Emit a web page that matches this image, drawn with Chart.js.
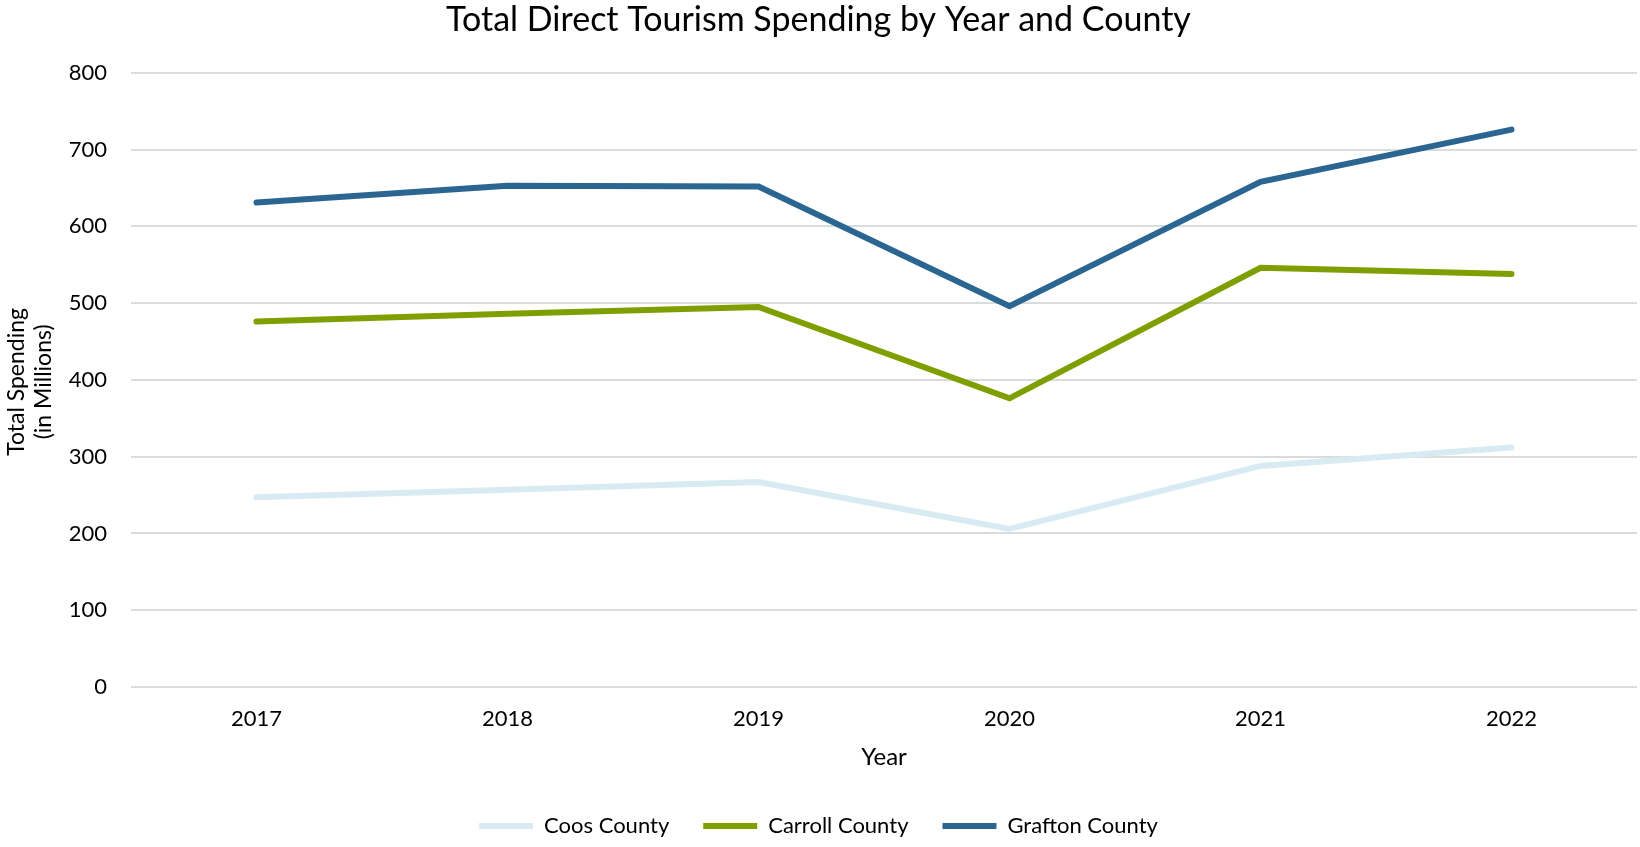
<!DOCTYPE html>
<html>
<head>
<meta charset="utf-8">
<title>Total Direct Tourism Spending</title>
<script src="https://cdn.jsdelivr.net/npm/chart.js@4"></script>
<style>
    html, body { margin: 0; padding: 0; background: #ffffff; }
    #wrap { width: 1640px; height: 847px; }
</style>
</head>
<body>
<div id="wrap"><canvas id="spendingChart" width="1640" height="847"></canvas></div>
<script>
// -----------------------------
// DATA (millions of dollars)
// -----------------------------
const years = ["2017", "2018", "2019", "2020", "2021", "2022"];

const coosSpending = [247, 257, 267, 206, 288, 312];
const carrollSpending = [476, 486, 495, 376, 546, 538];
const graftonSpending = [631, 653, 652, 496, 658, 726];

const yTicks = [0, 100, 200, 300, 400, 500, 600, 700, 800];
const yTitleLines = ["Total Spending", "(in Millions)"];

const FONT = "Lato, 'Open Sans', sans-serif";
const TEXT = "#000000";
const GRID = "#d9dcdc";

// -----------------------------
// DATASET HELPER
// -----------------------------
function countyLine(label, values, color) {

    return {
        label: label,
        data: values,
        borderColor: color,
        backgroundColor: color,
        borderWidth: 6,
        borderCapStyle: "round",
        tension: 0,
        pointRadius: 0,
        pointHoverRadius: 0,
        fill: false
    };
}

// -----------------------------
// Y AXIS TITLE (two rotated lines, drawn by hand)
// -----------------------------
const yTitlePlugin = {
    id: "yTitle",
    afterDraw(chart) {

        const { ctx, chartArea } = chart;
        const midY = (chartArea.top + chartArea.bottom) / 2 + 2;

        ctx.save();
        ctx.translate(17, midY);
        ctx.rotate(-Math.PI / 2);
        ctx.fillStyle = TEXT;
        ctx.font = `23px ${FONT}`;
        ctx.textAlign = "center";
        ctx.textBaseline = "middle";

        yTitleLines.forEach((line, i) => {
            ctx.fillText(line, 0, i * 27);
        });

        ctx.restore();
    }
};

// -----------------------------
// CHART
// -----------------------------
function drawChart() {

    const ctx = document.getElementById("spendingChart").getContext("2d");

    new Chart(ctx, {
        type: "line",
        data: {
            labels: years,
            datasets: [
                countyLine("Coos County", coosSpending, "#d8ebf3"),
                countyLine("Carroll County", carrollSpending, "#7f9f00"),
                countyLine("Grafton County", graftonSpending, "#2b6592")
            ]
        },
        plugins: [yTitlePlugin],
        options: {
            responsive: false,
            animation: false,
            events: [],
            layout: {
                padding: { left: 0, right: 3, top: 0, bottom: 0 }
            },
            plugins: {
                title: {
                    display: true,
                    text: "Total Direct Tourism Spending by Year and County",
                    color: TEXT,
                    font: { family: FONT, size: 34, weight: "normal", lineHeight: 1.2 },
                    padding: { top: 0, bottom: 32 }
                },
                legend: {
                    position: "bottom",
                    labels: {
                        color: TEXT,
                        font: { family: FONT, size: 22 },
                        usePointStyle: true,
                        pointStyle: "line",
                        pointStyleWidth: 54,
                        padding: 34
                    }
                },
                tooltip: { enabled: false }
            },
            scales: {
                x: {
                    offset: true,
                    grid: { display: false, drawTicks: false },
                    border: { display: false },
                    ticks: {
                        color: TEXT,
                        font: { family: FONT, size: 22 },
                        padding: 19
                    },
                    title: {
                        display: true,
                        text: "Year",
                        color: TEXT,
                        font: { family: FONT, size: 24, lineHeight: 1.2 },
                        padding: { top: 0, bottom: 9 }
                    },
                    afterFit(scale) {
                        // leave the plot bottom where the 0 line sits
                        scale.height = 847 - 687 - scale.chart.legend.height;
                    }
                },
                y: {
                    min: 0,
                    max: 800,
                    afterBuildTicks(scale) {
                        scale.ticks = yTicks.map(v => ({ value: v }));
                    },
                    grid: { color: GRID, lineWidth: 2, drawTicks: false },
                    border: { display: false },
                    ticks: {
                        color: TEXT,
                        font: { family: FONT, size: 22 },
                        padding: 24
                    },
                    afterFit(scale) {
                        scale.width = 131;
                    }
                }
            }
        }
    });
}

// -----------------------------
// START
// -----------------------------
document.addEventListener("DOMContentLoaded", drawChart);
</script>
</body>
</html>
